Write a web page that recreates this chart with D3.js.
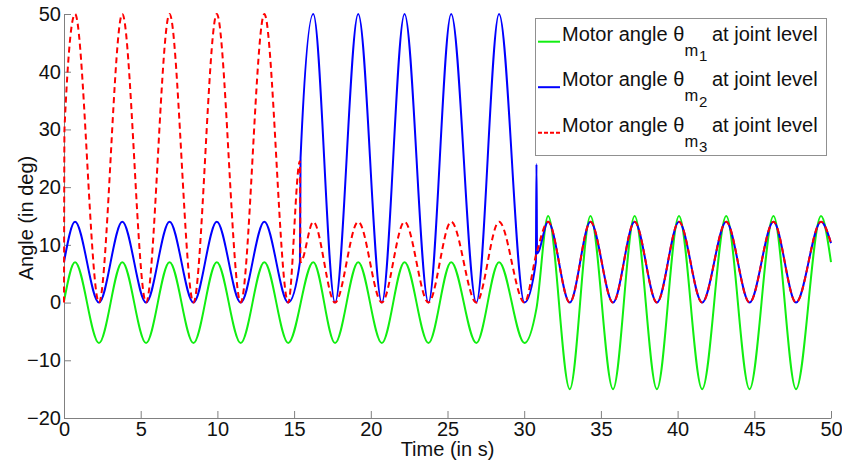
<!DOCTYPE html>
<html>
<head>
<meta charset="utf-8">
<script src="https://cdn.jsdelivr.net/npm/d3@7"></script>
<style>
    body { margin: 0; background: #fff; }
    svg { display: block; }
    text { font-family: "Liberation Sans", Arial, sans-serif; fill: #111; }
</style>
</head>
<body>
<svg id="chart"></svg>
<script>
"use strict";

// ticks
var xTicks = [0, 5, 10, 15, 20, 25, 30, 35, 40, 45, 50];
var yTicks = [-20, -10, 0, 10, 20, 30, 40, 50];

// [time (s), angle (deg)]: extrema plus the switch points
var greenPts = [
    [0, 0.2], [0.72, 7], [2.28, -7], [3.80, 7], [5.35, -7], [6.88, 7], [8.44, -7],
    [9.96, 7], [11.52, -7], [13.06, 7], [14.62, -7], [16.25, 7], [17.67, -7],
    [19.18, 7], [20.72, -7], [22.20, 7], [23.76, -7], [25.24, 7], [26.88, -7],
    [28.36, 7], [30.02, -7], [30.80, -1], [31.56, 15], [32.97, -15], [34.32, 15],
    [35.79, -15], [37.20, 15], [38.65, -15], [40.09, 15], [41.60, -15], [43.17, 15],
    [44.69, -15], [46.25, 15], [47.72, -15], [49.35, 15], [50, 7]
];

var bluePts = [
    [0, 7], [0.72, 14], [2.28, 0], [3.80, 14], [5.35, 0], [6.88, 14], [8.44, 0],
    [9.96, 14], [11.52, 0], [13.06, 14], [14.62, 0], [15.38, 7], [15.42, 25],
    [16.25, 50], [17.67, 0], [19.18, 50], [20.72, 0], [22.20, 50], [23.76, 0],
    [25.24, 50], [26.88, 0], [28.36, 50], [30.02, 0], [30.76, 7], [30.80, 24],
    [30.84, 8.5], [31.56, 14], [32.97, 0], [34.32, 14], [35.79, 0], [37.20, 14],
    [38.65, 0], [40.09, 14], [41.60, 0], [43.17, 14], [44.69, 0], [46.25, 14],
    [47.72, 0], [49.35, 14], [50, 10.3]
];

var redPts = [
    [0, 0], [0.03, 30], [0.72, 50], [2.28, 0], [3.80, 50], [5.35, 0], [6.88, 50],
    [8.44, 0], [9.96, 50], [11.52, 0], [13.06, 50], [14.62, 0], [15.38, 24.5],
    [15.42, 7], [16.25, 14], [17.67, 0], [19.18, 14], [20.72, 0], [22.20, 14],
    [23.76, 0], [25.24, 14], [26.88, 0], [28.36, 14], [30.02, 0], [30.80, 8.5],
    [31.56, 14], [32.97, 0], [34.32, 14], [35.79, 0], [37.20, 14], [38.65, 0],
    [40.09, 14], [41.60, 0], [43.17, 14], [44.69, 0], [46.25, 14], [47.72, 0],
    [49.35, 14], [50, 10.3]
];

var seriesNames = ['1', '2', '3'];
var seriesColors = ['#11ee11', '#0000ff', '#ff0000'];
var seriesDash = [null, null, '6,4'];
var seriesData = [greenPts, bluePts, redPts];

var width = 842, height = 467;
var svg = d3.select('#chart')
    .attr('width', width)
    .attr('height', height);

var x = d3.scaleLinear().domain([0, 50]).range([64, 831]);
var y = d3.scaleLinear().domain([-20, 50]).range([418, 14]);

// axes (box off, ticks pointing in)
var xAxis = svg.append('g')
    .attr('transform', 'translate(0,418)')
    .call(d3.axisBottom(x).tickValues(xTicks).tickSizeInner(-7).tickSizeOuter(0).tickPadding(4));

var yAxis = svg.append('g')
    .attr('transform', 'translate(64,0)')
    .call(d3.axisLeft(y).tickValues(yTicks).tickSizeInner(-7).tickSizeOuter(0).tickPadding(3));

[xAxis, yAxis].forEach(function(g) {
    g.attr('font-size', 20).attr('font-family', null);
    g.selectAll('.domain, .tick line').attr('stroke', '#808080');
    g.selectAll('.tick text').attr('fill', '#111');
});

// lines
var line = d3.line()
    .x(d => x(d[0]))
    .y(d => y(d[1]))
    .curve(d3.curveMonotoneX);

svg.append('g')
    .selectAll('path')
    .data(seriesData)
    .enter()
    .append('path')
        .attr('d', line)
        .attr('fill', 'none')
        .attr('stroke', (d, i) => seriesColors[i])
        .attr('stroke-width', 2)
        .attr('stroke-dasharray', (d, i) => seriesDash[i]);

// axis titles
svg.append('text')
    .attr('x', 447.5)
    .attr('y', 456)
    .attr('text-anchor', 'middle')
    .attr('font-size', 20)
    .text('Time (in s)');

svg.append('text')
    .attr('transform', 'translate(33,218) rotate(-90)')
    .attr('text-anchor', 'middle')
    .attr('font-size', 20)
    .text('Angle (in deg)');

// legend
var legend = svg.append('g');

legend.append('rect')
    .attr('x', 535.5)
    .attr('y', 18.5)
    .attr('width', 291)
    .attr('height', 137)
    .attr('fill', '#fff')
    .attr('stroke', '#909090');

var rows = legend.selectAll('.row')
    .data(seriesNames)
    .enter()
    .append('g')
        .attr('class', 'row')
        .attr('transform', (d, i) => `translate(0,${40.7 + i * 45.5})`);

rows.append('line')
    .attr('x1', 538)
    .attr('x2', 560)
    .attr('y1', 1)
    .attr('y2', 1)
    .attr('stroke', (d, i) => seriesColors[i])
    .attr('stroke-width', 2)
    .attr('stroke-dasharray', (d, i) => seriesDash[i] ? '4,2' : null);

rows.append('text')
    .attr('x', 562)
    .attr('font-size', 20)
    .text('Motor angle \u03b8');

rows.append('text')
    .attr('x', 684.5)
    .attr('y', 15)
    .attr('font-size', 16.5)
    .text('m');

rows.append('text')
    .attr('x', 699)
    .attr('y', 20.5)
    .attr('font-size', 15)
    .text(d => d);

rows.append('text')
    .attr('x', 712)
    .attr('font-size', 20)
    .text('at joint level');
</script>
</body>
</html>
